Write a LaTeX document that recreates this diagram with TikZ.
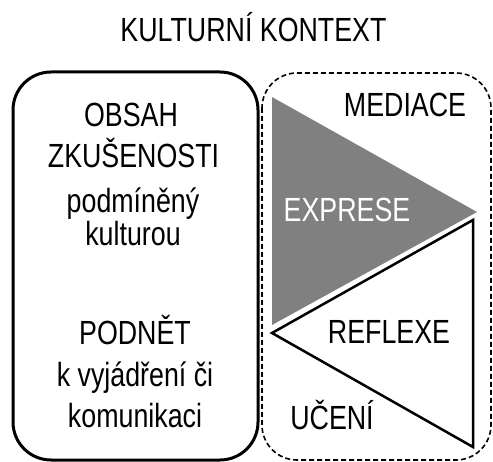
\documentclass[tikz,border=0pt]{standalone}
\usepackage{fontspec}
\setmainfont[FakeStretch=0.8]{Liberation Sans}
\begin{document}
\begin{tikzpicture}[x=1pt,y=-1pt,
  lbl/.style={anchor=base,inner sep=0pt,font=\fontsize{33.5}{40}\selectfont},
  solidbox/.style={draw=black,line width=3pt,rounded corners=38pt},
  dashbox/.style={draw=black,line width=1.6pt,dash pattern=on 5pt off 3pt,rounded corners=35pt},
  whitetri/.style={draw=black,fill=white,line width=2.5pt,line join=miter}]
\definecolor{midgray}{RGB}{128,128,128}
\useasboundingbox (0,0) rectangle (493,462);
\fill[white] (0,0) rectangle (493,462);
% boxes
\draw[solidbox] (13,72) rectangle (258,460);
\draw[dashbox] (262,73) rectangle (491,460);
% triangles
\fill[midgray] (272,97) -- (477,212) -- (272,325) -- cycle;
\draw[whitetri] (473,220) -- (272,333) -- (473,447) -- cycle;
% texts
\node[lbl] (title) at (253.5,42) {KULTURNÍ KONTEXT};
\node[lbl] (obsah) at (131,127) {OBSAH};
\node[lbl] (zkus) at (133.5,168) {ZKUŠENOSTI};
\node[lbl] (podm) at (133,213) {podmíněný};
\node[lbl] (kult) at (133,246) {kulturou};
\node[lbl] (podnet) at (135,345) {PODNĚT};
\node[lbl] (kvyj) at (135,387) {k vyjádření či};
\node[lbl] (komu) at (135,428) {komunikaci};
\node[lbl] (med) at (405,117) {MEDIACE};
\node[lbl,text=white] (expr) at (347,222) {EXPRESE};
\node[lbl] (refl) at (389,344) {REFLEXE};
\node[lbl] (uceni) at (332,430) {UČENÍ};
\end{tikzpicture}
\end{document}
